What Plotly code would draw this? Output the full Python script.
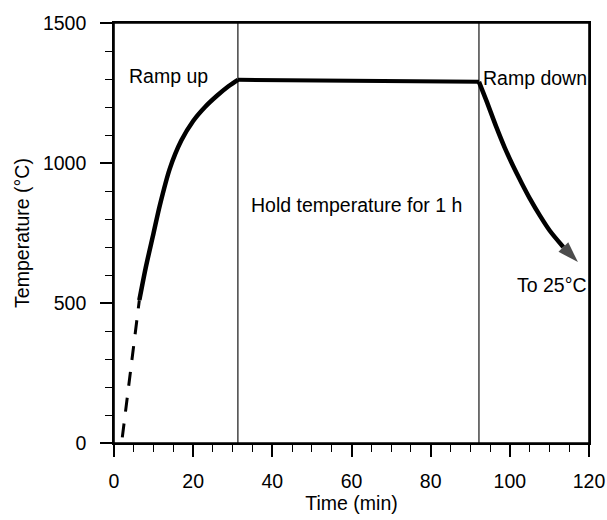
import plotly.graph_objects as go

# --- data ---
dash_x = [2.1, 6.4]
dash_t = [20, 510]

rampup_x = [6.4, 8.0, 10.0, 11.6, 14.1, 17.0, 20.0, 23.0, 26.0, 29.0, 31.3]
rampup_t = [510, 625, 750, 850, 980, 1080, 1150, 1200, 1240, 1275, 1297]

hold_x = [31.3, 92.2]
hold_t = [1297, 1290]

rampdown_x = [92.2, 94.1, 96.6, 98.7, 100.8, 103.0, 105.1, 107.6, 110.1, 113.5, 117.2]
rampdown_t = [1290, 1222, 1128, 1055, 990, 928, 872, 812, 758, 700, 646]

phase_bounds = [31.3, 92.2]

labels_text = ["Ramp up", "Hold temperature for 1 h", "Ramp down", "To 25°C"]
labels_x = [3.2, 34.1, 92.8, 101.3]
labels_t = [1312, 850, 1305, 564]

x_ticks = [0, 20, 40, 60, 80, 100, 120]
y_ticks = [0, 500, 1000, 1500]

FONT = "Liberation Sans, Arial, sans-serif"
FS = 19.5
fig = go.Figure()

# plot frame along the axis limits
x0, x1 = x_ticks[0], x_ticks[-1]
y0, y1 = y_ticks[0], y_ticks[-1]
fig.add_trace(go.Scatter(x=[x0, x1, x1, x0, x0], y=[y0, y0, y1, y1, y0], mode="lines",
                         line=dict(color="black", width=1.6), cliponaxis=False,
                         hoverinfo="skip", showlegend=False))

for xb in phase_bounds:
    fig.add_trace(go.Scatter(x=[xb, xb], y=[y0, y1], mode="lines",
                             line=dict(color="black", width=1.1),
                             hoverinfo="skip", showlegend=False))

fig.add_trace(go.Scatter(x=dash_x, y=dash_t, mode="lines",
                         line=dict(color="black", width=3, dash="14px,12px"),
                         showlegend=False))
fig.add_trace(go.Scatter(x=rampup_x, y=rampup_t, mode="lines",
                         line=dict(color="black", width=4.5, shape="spline", smoothing=0.8),
                         showlegend=False))
fig.add_trace(go.Scatter(x=hold_x, y=hold_t, mode="lines",
                         line=dict(color="black", width=4),
                         showlegend=False))
# ramp-down curve up to the base of the arrow head
fig.add_trace(go.Scatter(x=rampdown_x[:-1], y=rampdown_t[:-1], mode="lines",
                         line=dict(color="black", width=4.5, shape="spline", smoothing=0.8),
                         showlegend=False))
# arrow head at the final point, pointing along the last segment
fig.add_trace(go.Scatter(x=rampdown_x[-2:], y=rampdown_t[-2:], mode="markers",
                         marker=dict(symbol="arrow", size=[0, 22],
                                     angleref="previous", color="black",
                                     line=dict(width=0)),
                         showlegend=False))

for txt, lx, lt in zip(labels_text, labels_x, labels_t):
    fig.add_annotation(x=lx, y=lt, text=txt, showarrow=False,
                       xanchor="left", yanchor="middle",
                       font=dict(family=FONT, size=FS, color="black"))

axis_common = dict(showline=True, linecolor="black", linewidth=1.6, mirror=True,
                   ticks="outside", ticklen=12, tickwidth=1.5, tickcolor="black",
                   showgrid=False, zeroline=False, automargin=False,
                   tickfont=dict(family=FONT, size=FS, color="black"))

fig.update_xaxes(range=[0, 120], tickvals=x_ticks, ticklabelstandoff=8,
                 minor=dict(dtick=5, ticks="outside", ticklen=7, tickwidth=1.2, tickcolor="black"),
                 title=dict(text="Time (min)", font=dict(family=FONT, size=FS, color="black"), standoff=3),
                 **axis_common)
fig.update_yaxes(range=[0, 1500], tickvals=y_ticks, ticklabelstandoff=10,
                 minor=dict(dtick=100, ticks="outside", ticklen=7, tickwidth=1.2, tickcolor="black"),
                 title=dict(text="Temperature (°C)", font=dict(family=FONT, size=FS, color="black"), standoff=8),
                 **axis_common)

fig.update_layout(width=607, height=520,
                  margin=dict(l=114, r=18, t=23, b=77),
                  plot_bgcolor="white", paper_bgcolor="white",
                  showlegend=False)

# remove the browser's default page margin so the figure sits at the window origin
fig.write_html("out.html", config={"displayModeBar": False},
               post_script="document.body.style.margin='0px';document.body.style.overflow='hidden';")
